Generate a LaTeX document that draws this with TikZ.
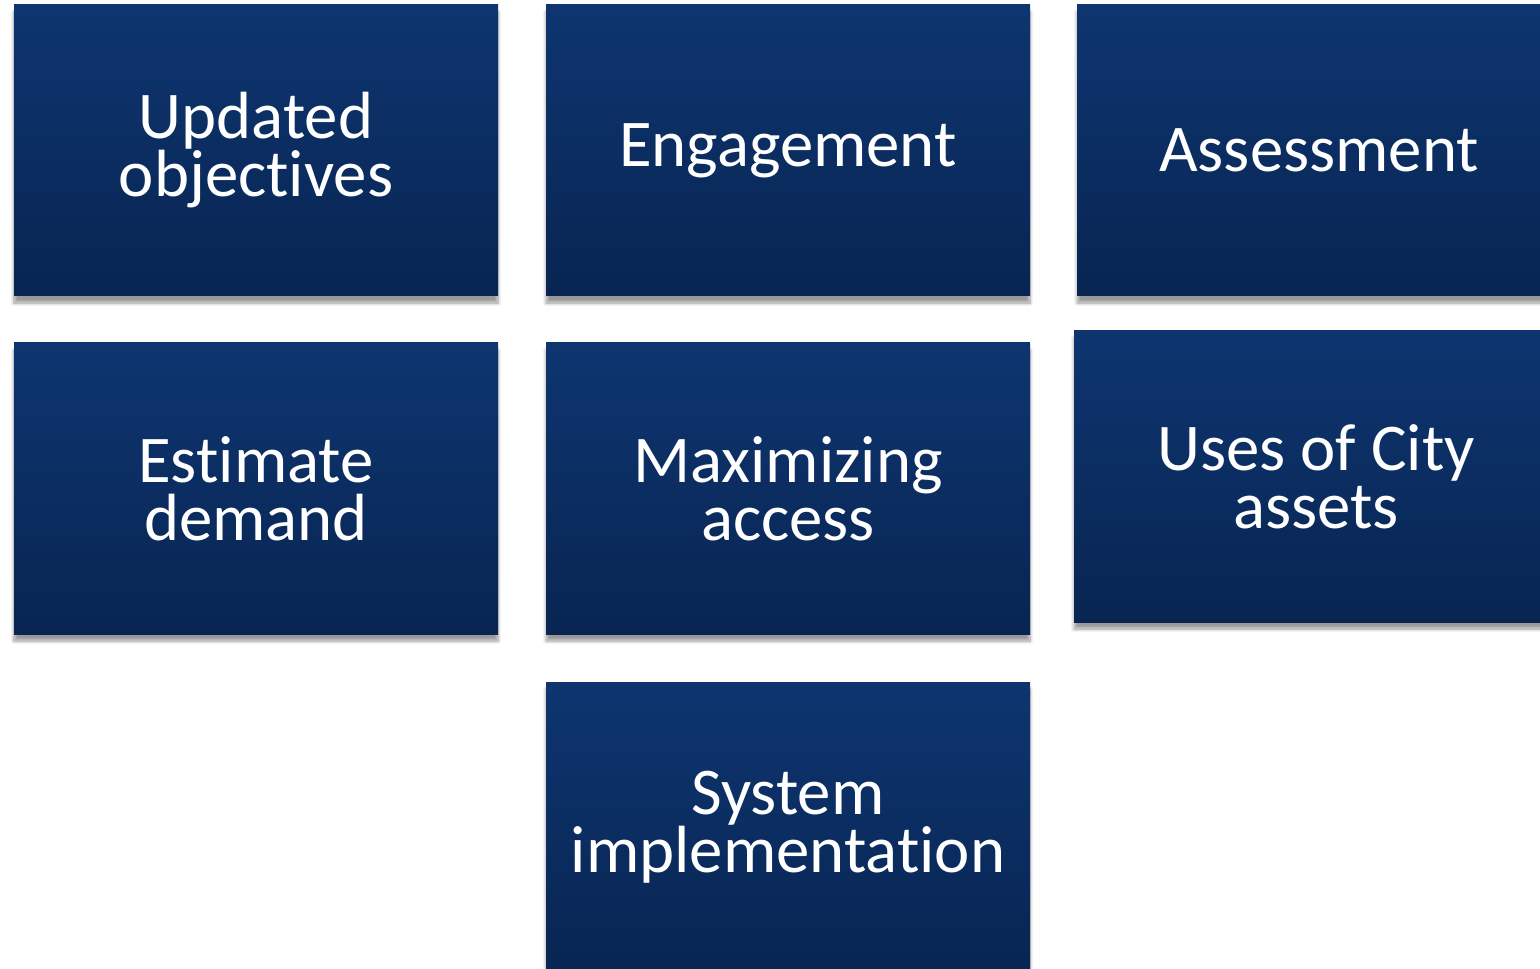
\documentclass[tikz,border=0pt]{standalone}
\usepackage{fontspec}
\setmainfont{Carlito}[Ligatures=NoCommon]
\usepackage{tikz}
\usetikzlibrary{shadows.blur}

\definecolor{boxtop}{RGB}{14,53,112}
\definecolor{boxbottom}{RGB}{8,37,82}

% Carlito joins "ti" on its own, keep the two letters apart
\newcommand{\tisep}{t\kern0pt i}

\tikzset{
	phasebox/.style={rectangle, inner sep=0pt, minimum width=9.68cm, minimum height=5.82cm,
		top color=boxtop, bottom color=boxbottom, text=white, align=center,
		font=\fontsize{38}{33}\selectfont,
		blur shadow={shadow xshift=0pt, shadow yshift=-4pt, shadow blur steps=8, shadow opacity=40}}
}

\begin{document}
\begin{tikzpicture}
	\useasboundingbox (0,0) rectangle (30.8,19.36);
	\begin{scope}
	\clip (0,0) rectangle (30.8,19.36);
	% first row
	\node[phasebox] (objectives) at (5.12,16.35) {Updated\\objec\tisep ves};
	\node[phasebox] (engagement) at (15.76,16.35) {Engagement};
	\node[phasebox] (assessment) at (26.38,16.35) {Assessment};
	% second row
	\node[phasebox] (demand) at (5.12,9.59) {Es\tisep mate\\demand};
	\node[phasebox] (access) at (15.76,9.59) {Maximizing\\access};
	\node[phasebox] (assets) at (26.32,9.83) {Uses of City\\assets};
	% last one
	\node[phasebox] (implementation) at (15.76,2.81) {System\\implementa\tisep on};
	\end{scope}
\end{tikzpicture}
\end{document}
